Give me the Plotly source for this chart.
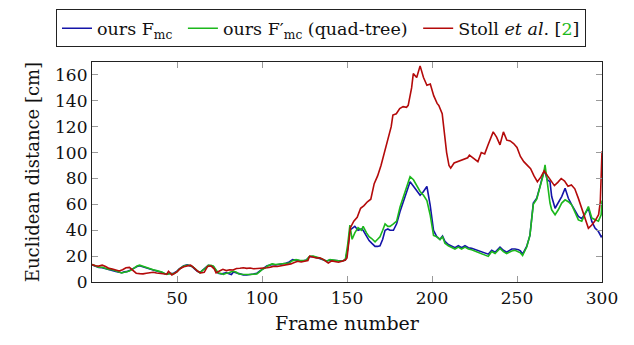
import plotly.graph_objects as go

# ---------------- data ----------------
stoll_frames = [0, 2, 4, 6, 8, 10, 12, 14, 16, 18, 20, 22, 24, 26, 28, 30, 32, 34, 36, 38,
                40, 42, 44, 45, 47, 50, 52, 54, 56, 58, 60, 62, 64, 66, 68, 70, 72, 73, 75, 77,
                79, 81, 83, 85, 87, 89, 91, 93, 95, 97, 99, 101, 103, 105, 107, 109, 111, 113, 115, 117,
                119, 121, 123, 125, 127, 128, 130, 132, 134, 136, 138, 139, 141, 143, 145, 147, 149, 150, 151, 152,
                154, 156, 158, 160, 162, 164, 166, 168, 170, 172, 174, 176, 177, 179, 181, 183, 185, 186, 188, 189,
                191, 193, 195, 197, 199, 201, 203, 204, 206, 207, 208.6, 210, 211, 213, 215, 217, 219, 221, 222, 224,
                226, 227, 229, 231, 233, 236, 238, 240, 242, 244, 246, 248, 250, 252, 254, 256, 258, 260, 262, 264,
                266, 268, 270, 272, 274, 276, 278, 280, 282, 284, 286, 288, 290, 292, 294, 296, 298, 299, 300]
stoll_dist = [13.5, 12.5, 12.3, 13, 12, 10.5, 10, 9.5, 8.5, 9.5, 11, 11.3, 9, 6.8, 6.5, 6.3, 6.8, 7, 7.5, 7,
              6.5, 6.5, 6, 8.3, 5.5, 7.8, 10.5, 11.8, 12.3, 13, 11, 8.5, 7, 7.5, 12, 12.5, 10, 7, 8.5, 9.8,
              8.8, 9.5, 9.3, 10.4, 10.6, 11, 10.5, 10.8, 10.2, 10.4, 10.8, 10.5, 11, 11.5, 12.2, 12, 12.5, 12.8, 13.5, 14,
              15, 16, 15.5, 15.8, 16.5, 19.9, 19, 18.5, 18.7, 17.5, 15.5, 14.7, 16.3, 15.5, 15.3, 16, 17, 18.6, 33, 42,
              47, 50, 57, 59, 62, 64, 76, 82, 90, 100, 110, 120, 129, 130, 134, 135.5, 135, 136.5, 150, 161,
              158, 167, 158, 152, 153, 144, 138, 136.5, 130, 118, 100, 90, 88, 92, 93, 94, 95.5, 96, 98, 96,
              94, 93, 100, 99, 106, 116, 112, 106, 116, 109.6, 109, 107, 104, 97, 93, 90, 87.5, 82, 77.5, 81,
              86, 82, 78, 74.5, 77, 80, 78, 74, 75, 72, 65, 57, 49, 41.5, 44, 47.5, 52, 62, 101]

low_frames = [0, 2, 4, 6, 8, 10, 12, 14, 16, 17.5, 19, 20.5, 22, 23.5, 25, 26.5, 28, 30, 31, 33,
              34, 36, 38, 40, 41, 43, 44, 46, 48, 50, 51, 53, 54, 56, 57, 59, 60, 62, 63.5, 65,
              66.5, 68.4, 70, 71.4, 73, 74.3, 76, 77.3, 79, 80.2, 82, 83.2, 85, 86.1, 88, 89, 91, 93, 95, 97,
              99, 100, 102, 103, 105, 106, 108, 110, 112, 114, 116, 118, 120, 122, 124, 126, 128, 130, 132, 133,
              135, 136, 138, 140, 141.5, 143, 145, 147, 149]
high_frames = [150.4, 151.7, 153, 154.6, 156.5, 158.5, 159.5, 161.5, 163, 164.5, 166.5, 168, 169.4, 171, 172.4, 174, 175.3, 177.3, 179.2, 181.2,
               183.2, 185.2, 187.1, 189.1, 191, 193, 195, 197, 198.9, 200.9, 202.8, 204.7, 206.2, 207.6, 209.6, 211.5, 213.5, 215.5, 217.4, 219.4,
               221.4, 223.3, 225.3, 227.3, 230.2, 233.1, 235.1, 237.1, 240, 242, 243.9, 246.9, 248.8, 250.8, 252, 253.3, 255.7, 257.6, 259.6, 261.6,
               263.5, 265.5, 266.5, 267.8, 269.4, 270.4, 272.4, 274.3, 276.3, 278.3, 280.2, 282.2, 284.1, 286.1, 288.1, 290, 292, 294, 295.9, 297.9,
               299.5, 300]
ours_frames = low_frames + high_frames

quad_dist = [13.5, 12.5, 11.5, 11.4, 10.5, 9.6, 9.5, 8.5, 8, 7, 7.5, 7.8, 8.5, 9.6, 11, 12.3, 13, 12, 11.4, 10.8,
             10.4, 9.5, 8.8, 8.2, 7.8, 6.5, 5.8, 6.5, 6.3, 8, 9.6, 11.5, 12.3, 13, 13, 12, 11, 8.5, 7, 9,
             10.4, 13, 13, 12.3, 9, 7, 6.5, 5.8, 6.8, 7, 8, 8.3, 7.5, 6.3, 6, 5.8, 5.8, 5.8, 6, 6.3,
             8.3, 9.6, 11, 12.2, 13.5, 14, 13.5, 13.8, 14, 14, 14.7, 16.5, 17.3, 16.8, 16.5, 16.8, 19.9, 20, 19.5, 19,
             18, 17.3, 16, 17.3, 17, 16.5, 16.3, 16, 17.3,
             28.8, 44, 33, 38, 42, 40, 43, 38, 35, 33.6, 31, 33, 35, 40, 44.9, 43, 43, 44.9, 47, 58,
             66, 73.7, 81.4, 79, 74, 70, 67, 63, 52, 36, 35, 32.7, 35, 30, 28, 27, 25.5, 27, 25.5, 27,
             25.5, 25, 24, 23, 21.5, 19.8, 23.5, 22, 26, 23.5, 22, 24, 24.5, 23.5, 22.5, 20.5, 27, 36, 60, 64,
             73, 83, 90.5, 76, 61, 55.8, 52, 55.8, 61, 63.5, 62, 59.6, 54.5, 48, 47, 52, 58.3, 49.4, 48, 47,
             52, 63]

mc_dist = [13.2, 12.2, 11.2, 11, 10.2, 9.3, 9, 8.2, 7.6, 7.2, 7.8, 8, 8.8, 9.8, 11.2, 12, 12.5, 11.6, 11, 10.5,
           10, 9.2, 8.5, 7.8, 7.5, 6.2, 6.3, 7, 6.8, 8.3, 9.8, 11.6, 12.6, 13.2, 12.8, 11.8, 10.5, 8.2, 7.3, 9.3,
           10.8, 12.8, 12.6, 12, 8.6, 6.8, 6.2, 6.6, 7.2, 6.5, 5.8, 7.8, 7, 6.8, 6.2, 5.5, 5.4, 5.6, 6.2, 6.8,
           8.8, 10, 11.3, 12.5, 13.2, 13.6, 13.2, 13.5, 14.2, 14.5, 15.5, 17.3, 16.8, 16.4, 16.2, 17, 19.5, 19.6, 19.2, 18.6,
           17.6, 17, 16.3, 17, 16.8, 16.2, 16, 16.2, 17,
           25, 40, 41.7, 43, 40, 41, 40, 35, 32, 30, 27.5, 27.5, 28, 33, 40, 41, 40, 40, 45, 54.5,
           62, 70, 77.5, 74, 71, 67, 70, 73.8, 59.6, 40, 35, 33, 35.5, 31.5, 29, 28, 26.5, 28, 26.5, 28,
           26.5, 26, 25, 24, 23, 21.5, 24.5, 23, 27, 24.5, 23, 25.5, 25.5, 25, 24, 21.5, 27.5, 36, 61, 64.7,
           73.7, 84, 85, 79, 77.5, 66, 57, 61, 66, 72.4, 64.7, 59.6, 55, 50.6, 49, 53, 57, 46.8, 41.7, 39,
           35, 36]

x_ticks = [50, 100, 150, 200, 250, 300]
y_ticks = [0, 20, 40, 60, 80, 100, 120, 140, 160]

# ---------------- figure ----------------
FONT = "DejaVu Serif"
BLUE = "#1414a8"
GREEN = "#1cb81c"
RED = "#b40a0a"
NB = "\u00a0"

fig = go.Figure()
fig.add_trace(go.Scatter(x=ours_frames, y=mc_dist, mode="lines",
                         line=dict(color=BLUE, width=1.6),
                         name="ours F<sub>mc</sub>" + NB))
fig.add_trace(go.Scatter(x=ours_frames, y=quad_dist, mode="lines",
                         line=dict(color=GREEN, width=1.6),
                         name="ours F′<sub>mc</sub> (quad-tree)" + NB))
fig.add_trace(go.Scatter(x=stoll_frames, y=stoll_dist, mode="lines",
                         line=dict(color=RED, width=1.6),
                         name="Stoll <i>et al</i>. [<span style='color:#1cb81c'>2</span>]"))

axis_common = dict(showline=True, linecolor="#222", linewidth=1.2, mirror="ticks",
                   ticks="inside", ticklen=6, tickcolor="#9a9a9a", tickwidth=1,
                   showgrid=False, zeroline=False, automargin=False,
                   tickfont=dict(family=FONT, size=17, color="#111"))

# the page body adds an 8px offset; margins compensate so the plot area lands
# at x 92..602, y 61.5..282.5 in the screenshot
fig.update_layout(
    width=634, height=345,
    margin=dict(l=84, r=40, t=53.5, b=70.5, autoexpand=False),
    paper_bgcolor="white", plot_bgcolor="white",
    font=dict(family=FONT, color="#111"),
    showlegend=True,
    legend=dict(orientation="h", x=-0.0706, xanchor="left", y=1.239, yanchor="top",
                bordercolor="#222", borderwidth=1, bgcolor="white",
                font=dict(family=FONT, size=17.5), itemwidth=30),
    xaxis=dict(range=[0, 300], tickvals=x_ticks,
               title=dict(text="Frame number", font=dict(family=FONT, size=19), standoff=10),
               **axis_common),
    yaxis=dict(range=[0, 170], tickvals=y_ticks,
               title=dict(text="Euclidean distance [cm]", font=dict(family=FONT, size=18), standoff=10),
               **axis_common),
)

fig.write_html("out.html")
